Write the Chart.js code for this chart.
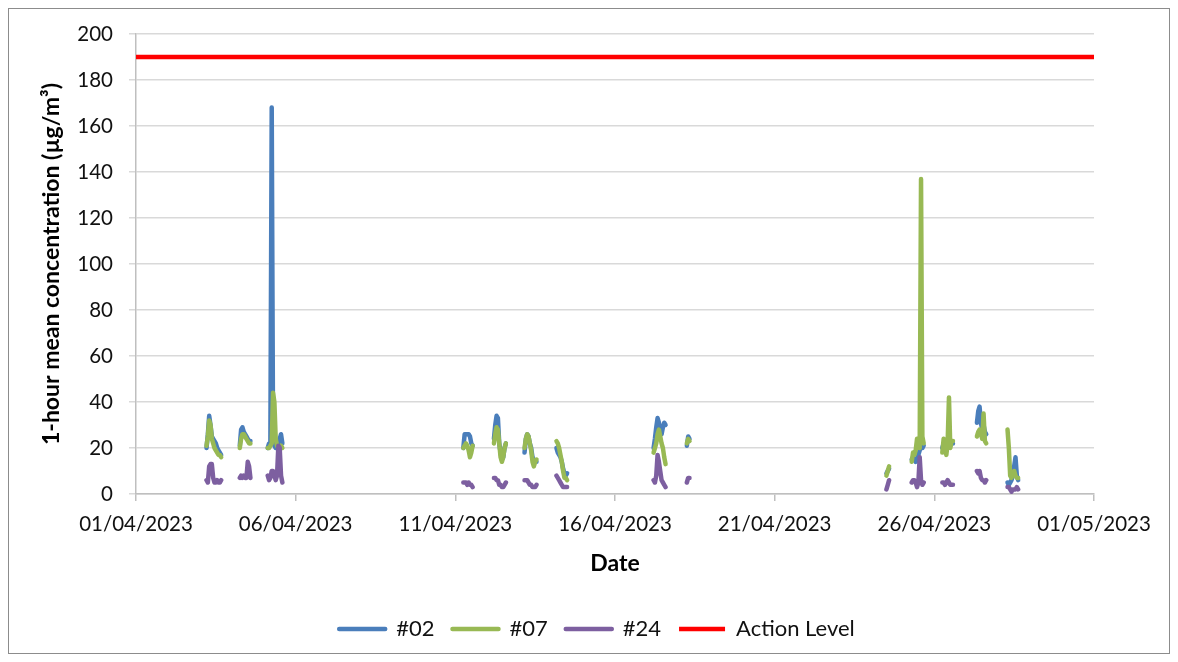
<!DOCTYPE html>
<html><head><meta charset="utf-8">
<script src="https://cdn.jsdelivr.net/npm/chart.js@4.4.0/dist/chart.umd.min.js"></script>
<style>
html,body{margin:0;padding:0;background:#fff;}
#wrap{position:relative;width:1178px;height:662px;overflow:hidden;}
#frame{position:absolute;left:8px;top:8px;width:1162px;height:646px;border:1.5px solid #8c8c8c;box-sizing:border-box;pointer-events:none;}
canvas{position:absolute;left:0;top:0;}
</style></head><body>
<div id="wrap"><canvas id="c" width="1178" height="662"></canvas><div id="frame"></div></div>
<script>
// hours since 01/04/2023 00:00
const hours = [
  53,54,55,56,57,58,59,60,61,62,63,64,
  78,79,80,81,82,83,84,85,86,
  99,100,101,102,103,104,105,106,107,108,109,110,
  246,247,248,249,250,251,252,253,
  269,270,271,272,273,274,275,276,277,278,
  292,293,294,295,296,297,298,299,300,301,
  316,317,318,319,320,321,322,323,324,
  389,390,391,392,393,394,395,396,397,398,
  414,415,416,
  564,565,566,
  583,584,585,586,587,588,589,590,591,592,
  606,607,608,609,610,611,612,613,614,
  632,633,634,635,636,637,638,639,
  655,656,657,658,659,660,661,662,663
];
const s02 = [
  20,26,34,30,25,24,23,22,20,19,18,17,
  21,28,29,27,26,25,24,23,23,
  20,22,22,168,25,21,20,20,21,24,26,22,
  20,26,26,26,26,25,22,21,
  24,30,34,33,22,18,15,16,20,22,
  18,24,26,25,22,20,16,14,14,14,
  20,18,17,16,14,11,9,8,9,
  20,24,29,33,31,28,26,29,31,30,
  21,25,24,
  9,10,11,
  15,16,15,14,15,17,19,21,20,21,
  20,22,20,22,23,22,21,22,22,
  31,36,38,31,28,30,27,26,
  5,4,5,6,8,12,16,8,6
];
const s07 = [
  21,25,32,30,24,22,20,19,18,17,17,16,
  20,24,26,26,25,24,23,22,22,
  20,20,21,22,44,40,24,21,20,20,21,20,
  20,21,22,21,19,16,18,21,
  22,26,29,28,22,16,14,16,20,22,
  20,24,26,25,22,19,14,12,14,15,
  23,22,20,17,14,10,7,7,6,
  18,20,22,26,28,25,22,20,16,13,
  22,24,23,
  8,10,12,
  14,18,17,19,24,22,20,137,25,22,
  18,24,20,17,22,42,20,23,23,
  25,27,28,26,24,35,23,22,
  28,20,8,7,9,10,8,7,7
];
const s24 = [
  6,5,12,13,13,7,5,5,6,5,5,6,
  7,8,7,8,7,7,14,12,7,
  8,6,7,10,10,8,6,8,21,20,8,5,
  5,5,5,4,5,4,4,3,
  7,7,6,6,4,4,3,3,4,5,
  6,6,6,5,4,4,3,3,3,4,
  8,7,6,5,4,3,3,3,3,
  6,5,8,17,14,10,6,5,4,3,
  5,7,7,
  2,4,6,
  5,6,6,5,3,5,16,6,4,5,
  5,5,4,5,6,5,4,4,4,
  10,9,10,7,6,6,5,6,
  3,3,2,1,2,2,2,3,2
];
const actionLevel = 190;
const xTickLabels = ["01/04/2023","06/04/2023","11/04/2023","16/04/2023","21/04/2023","26/04/2023","01/05/2023"];
const seriesNames = ["#02","#07","#24","Action Level"];
const yTitle = "1-hour mean concentration (µg/m³)";
const xTitle = "Date";

function buildPoints(vals){
  const pts = [];
  for (let i = 0; i < hours.length; i++){
    if (i > 0 && hours[i] - hours[i-1] > 1) pts.push({x: (hours[i-1] + 0.5) / 24, y: null});
    pts.push({x: hours[i] / 24, y: vals[i]});
  }
  return pts;
}

const FONT = 'Lato, "Open Sans", sans-serif';
Chart.defaults.font.family = FONT;
Chart.defaults.font.size = 20.5;
Chart.defaults.color = '#111';

const lineDs = (label, vals, color, order) => ({
  label, data: buildPoints(vals), borderColor: color, backgroundColor: color,
  borderWidth: 4.5, pointRadius: 0, pointHoverRadius: 0, tension: 0,
  borderCapStyle: 'round', borderJoinStyle: 'round', spanGaps: false, order
});

new Chart(document.getElementById('c'), {
  type: 'line',
  data: {
    datasets: [
      lineDs(seriesNames[0], s02, '#4A7EBB', 4),
      lineDs(seriesNames[1], s07, '#98B954', 3),
      lineDs(seriesNames[2], s24, '#7D5FA0', 2),
      { label: seriesNames[3], data: [{x:0, y:actionLevel},{x:30, y:actionLevel}],
        borderColor: '#FF0000', backgroundColor: '#FF0000', borderWidth: 4.5,
        pointRadius: 0, borderCapStyle: 'butt', order: 1 }
    ]
  },
  options: {
    responsive: false, animation: false, devicePixelRatio: 1,
    layout: { padding: { left: 16, right: 0, top: 34, bottom: 12 } },
    plugins: {
      tooltip: { enabled: false },
      legend: {
        position: 'bottom',
        labels: {
          boxWidth: 46, boxHeight: 0, padding: 18, color: '#111',
          font: { size: 22 },
          sort: (a, b) => a.datasetIndex - b.datasetIndex
        }
      }
    },
    scales: {
      x: {
        type: 'linear', min: 0, max: 30,
        ticks: { stepSize: 5, autoSkip: false, maxRotation: 0, padding: 11, color: '#111',
                 callback: (v) => xTickLabels[Math.round(v / 5)] },
        grid: { drawOnChartArea: false, drawTicks: true, tickLength: 7, color: '#bfbfbf', lineWidth: 1.5 },
        border: { color: '#bfbfbf', width: 1.5 },
        title: { display: true, text: xTitle, color: '#000', font: { size: 23, weight: 'bold' }, padding: { top: 0, bottom: 23 } },
        afterFit: (s) => { s.height = 106; }
      },
      y: {
        min: 0, max: 200,
        ticks: { stepSize: 20, padding: 16, color: '#111' },
        grid: { color: '#d9d9d9', lineWidth: 1.5, tickLength: 7, drawTicks: true },
        border: { color: '#bfbfbf', width: 1.5 },
        title: { display: true, text: yTitle, color: '#000', font: { size: 23, weight: 'bold' }, padding: { top: 22, bottom: 0 } },
        afterFit: (s) => { s.width = 120; }
      },
      yRightSpace: {
        position: 'right', display: true,
        ticks: { display: false }, grid: { display: false }, border: { display: false },
        afterFit: (s) => { s.width = 84; }
      }
    }
  }
});
</script>
</body></html>
